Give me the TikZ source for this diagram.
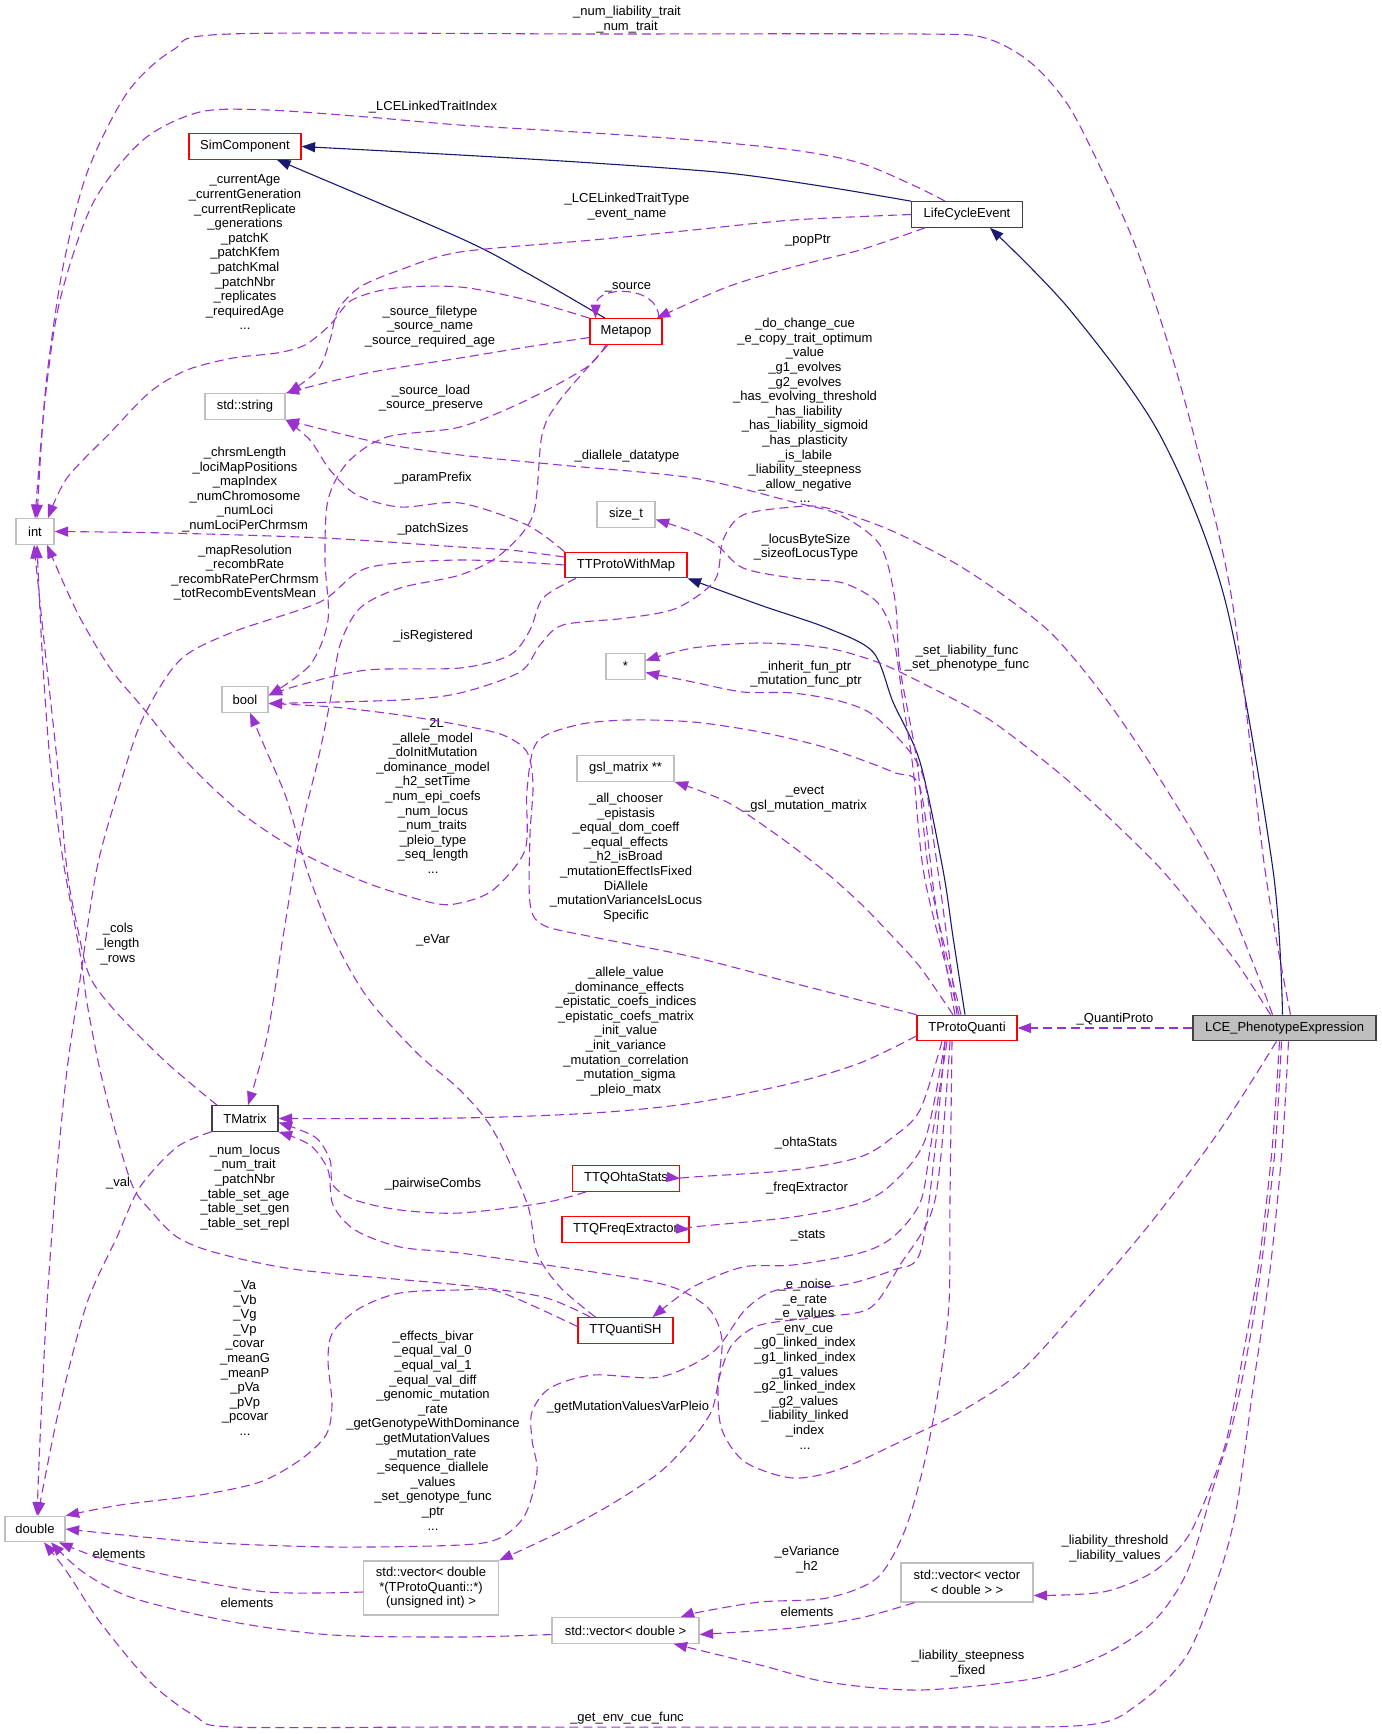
\documentclass[tikz,border=0pt]{standalone}
\usepackage{fontspec}
\setmainfont{Liberation Sans}
\usetikzlibrary{arrows.meta}
\definecolor{edgepurple}{HTML}{9A32CD}
\definecolor{edgenavy}{HTML}{191970}
\definecolor{boxgrey}{HTML}{BFBFBF}
\definecolor{boxred}{HTML}{FF0000}
\begin{document}
\begin{tikzpicture}[x=1pt, y=-1pt, >={Triangle[length=13.5pt,width=10pt]},
  every node/.style={font=\fontsize{13}{14.6}\selectfont, inner sep=0pt, align=center},
  cls/.style={rectangle, draw, line width=1.2pt, minimum height=25.5pt, fill=white},
  redcls/.style={cls, draw=boxred},
  blackcls/.style={cls, draw=black!75},
  greycls/.style={cls, draw=boxgrey},
  member/.style={->, draw=edgepurple, line width=1.1pt, dash pattern=on 9pt off 5pt},
  base/.style={->, draw=edgenavy, line width=1.1pt}]
\useasboundingbox (0,0) rectangle (1381,1734);
\node (simComp) at (245,146.5) [redcls, minimum width=112pt] {SimComponent};
\node (lifeCycle) at (967,214.5) [blackcls, minimum width=111pt] {LifeCycleEvent};
\node (metapop) at (626,331.5) [redcls, minimum width=72pt] {Metapop};
\node (typeString) at (245,406.5) [greycls, minimum width=80pt] {std::string};
\node (typeInt) at (35,531.5) [greycls, minimum width=38pt] {int};
\node (typeSize) at (626,514.5) [greycls, minimum width=58pt] {size\_t};
\node (protoMap) at (626,565) [redcls, minimum width=122pt] {TTProtoWithMap};
\node (typeStar) at (625.5,666.5) [greycls, minimum width=39pt] {*};
\node (typeBool) at (245,699.5) [greycls, minimum width=46pt] {bool};
\node (typeGsl) at (625.5,768.5) [greycls, minimum width=97pt] {gsl\_matrix **};
\node (protoQuanti) at (967,1028) [redcls, minimum width=100pt] {TProtoQuanti};
\node (lcePheno) at (1284.5,1028) [blackcls, fill=boxgrey, minimum width=183pt] {LCE\_PhenotypeExpression};
\node (tmatrix) at (245,1118.5) [blackcls, minimum width=66pt] {TMatrix};
\node (ohta) at (626,1178.5) [redcls, minimum width=107pt] {TTQOhtaStats};
\node (freq) at (625.5,1229.5) [redcls, minimum width=127pt] {TTQFreqExtractor};
\node (quantiSH) at (625.5,1330.5) [redcls, minimum width=95pt] {TTQuantiSH};
\node (typeDouble) at (35,1529) [greycls, minimum width=60pt] {double};
\node (vecFptr) at (431,1588) [greycls, minimum width=135pt, minimum height=54pt] {std::vector< double\\*(TProtoQuanti::*)\\(unsigned int) >};
\node (vecDouble) at (625.5,1630.5) [greycls, minimum width=147pt] {std::vector< double >};
\node (vecVec) at (967,1582.5) [greycls, minimum width=132pt, minimum height=39pt] {std::vector< vector\\< double > >};

\node (lNumTrait) at (627,19.5) {\_num\_liability\_trait\\\_num\_trait};
\node (lTraitIndex) at (433,107) {\_LCELinkedTraitIndex};
\node (lCurrentAge) at (245,252.5) {\_currentAge\\\_currentGeneration\\\_currentReplicate\\\_generations\\\_patchK\\\_patchKfem\\\_patchKmal\\\_patchNbr\\\_replicates\\\_requiredAge\\...};
\node (lTraitType) at (627,206.5) {\_LCELinkedTraitType\\\_event\_name};
\node (lPopPtr) at (808,240) {\_popPtr};
\node (lSource) at (628,287) {\_source};
\node (lSourceFile) at (430,326.5) {\_source\_filetype\\\_source\_name\\\_source\_required\_age};
\node (lSourceLoad) at (431,398) {\_source\_load\\\_source\_preserve};
\node (lChangeCue) at (805,410.5) {\_do\_change\_cue\\\_e\_copy\_trait\_optimum\\\_value\\\_g1\_evolves\\\_g2\_evolves\\\_has\_evolving\_threshold\\\_has\_liability\\\_has\_liability\_sigmoid\\\_has\_plasticity\\\_is\_labile\\\_liability\_steepness\\\_allow\_negative\\...};
\node (lChrsm) at (245,489.5) {\_chrsmLength\\\_lociMapPositions\\\_mapIndex\\\_numChromosome\\\_numLoci\\\_numLociPerChrmsm};
\node (lParamPrefix) at (433,478) {\_paramPrefix};
\node (lDiallele) at (627,456) {\_diallele\_datatype};
\node (lPatchSizes) at (433,529) {\_patchSizes};
\node (lLocusByte) at (806,547) {\_locusByteSize\\\_sizeofLocusType};
\node (lMapRes) at (245,572.5) {\_mapResolution\\\_recombRate\\\_recombRatePerChrmsm\\\_totRecombEventsMean};
\node (lRegistered) at (433,636) {\_isRegistered};
\node (lSetLiab) at (967,658) {\_set\_liability\_func\\\_set\_phenotype\_func};
\node (lInherit) at (806,674) {\_inherit\_fun\_ptr\\\_mutation\_func\_ptr};
\node (lTwoL) at (433,796) {\_2L\\\_allele\_model\\\_doInitMutation\\\_dominance\_model\\\_h2\_setTime\\\_num\_epi\_coefs\\\_num\_locus\\\_num\_traits\\\_pleio\_type\\\_seq\_length\\...};
\node (lEvect) at (805,799) {\_evect\\\_gsl\_mutation\_matrix};
\node (lAllChooser) at (626,857.5) {\_all\_chooser\\\_epistasis\\\_equal\_dom\_coeff\\\_equal\_effects\\\_h2\_isBroad\\\_mutationEffectIsFixed\\DiAllele\\\_mutationVarianceIsLocus\\Specific};
\node (lEVar) at (433,940) {\_eVar};
\node (lCols) at (118,944) {\_cols\\\_length\\\_rows};
\node (lAlleleValue) at (626,1031.5) {\_allele\_value\\\_dominance\_effects\\\_epistatic\_coefs\_indices\\\_epistatic\_coefs\_matrix\\\_init\_value\\\_init\_variance\\\_mutation\_correlation\\\_mutation\_sigma\\\_pleio\_matx};
\node (lQuantiProto) at (1115,1019) {\_QuantiProto};
\node (lOhta) at (806,1143) {\_ohtaStats};
\node (lPairwise) at (433,1184) {\_pairwiseCombs};
\node (lFreq) at (807,1188) {\_freqExtractor};
\node (lVal) at (118,1183) {\_val};
\node (lNumLocus) at (245,1187.5) {\_num\_locus\\\_num\_trait\\\_patchNbr\\\_table\_set\_age\\\_table\_set\_gen\\\_table\_set\_repl};
\node (lStats) at (808,1236) {\_stats};
\node (lVa) at (245,1358) {\_Va\\\_Vb\\\_Vg\\\_Vp\\\_covar\\\_meanG\\\_meanP\\\_pVa\\\_pVp\\\_pcovar\\...};
\node (lENoise) at (805,1364) {\_e\_noise\\\_e\_rate\\\_e\_values\\\_env\_cue\\\_g0\_linked\_index\\\_g1\_linked\_index\\\_g1\_values\\\_g2\_linked\_index\\\_g2\_values\\\_liability\_linked\\\_index\\...};
\node (lEffects) at (433,1430.5) {\_effects\_bivar\\\_equal\_val\_0\\\_equal\_val\_1\\\_equal\_val\_diff\\\_genomic\_mutation\\\_rate\\\_getGenotypeWithDominance\\\_getMutationValues\\\_mutation\_rate\\\_sequence\_diallele\\\_values\\\_set\_genotype\_func\\\_ptr\\...};
\node (lGetMut) at (628,1407) {\_getMutationValuesVarPleio};
\node (lLiabThresh) at (1115,1548.5) {\_liability\_threshold\\\_liability\_values};
\node (lElemVV) at (807,1612) {elements};
\node (lEVariance) at (807,1559.5) {\_eVariance\\\_h2};
\node (lLiabSteep) at (968,1663.5) {\_liability\_steepness\\\_fixed};
\node (lElemVD) at (247,1603) {elements};
\node (lElemVF) at (119,1554) {elements};
\node (lGetEnv) at (627,1718) {\_get\_env\_cue\_func};

\draw[base] plot[smooth] coordinates {(lifeCycle.north west) (827,187) (727,173) (593,163) (460,155) (simComp.east)};
\draw[base] plot[smooth] coordinates {([xshift=-21pt]metapop.north) (527,273) (460,238) ([xshift=32pt]simComp.south)};
\draw[base] plot[smooth] coordinates {([xshift=-2pt]lcePheno.north) (1273,870) (1225,600) (1160,435) (1070,310) ([xshift=23pt]lifeCycle.south)};
\draw[base] plot[smooth] coordinates {([xshift=-2pt]protoQuanti.north) (953,937) (943,870) (920,762) (893,702) (873,652) (827,628) (760,605) (protoMap.south east)};

\draw[member] plot[smooth] coordinates {([xshift=6pt]lcePheno.north) (1265,870) (1232,600) (1195,440) (1170,350) (1137,250) (1103,173) (1068,105) (1030,62) (985,38) (920,34) (600,34) (230,34) (173,50) (127,93) (87,173) (63,267) (48,367) (42,433) ([xshift=2pt]typeInt.north)};
\draw[member] plot[smooth] coordinates {([xshift=-22pt]lifeCycle.north) (917,187) (860,163) (793,150) (693,140) (593,133) (460,125) (367,117) (267,110) (200,112) (143,140) (93,203) (60,300) (45,400) (typeInt.north)};
\draw[member] plot[smooth] coordinates {(lifeCycle.west) (793,220) (693,230) (593,240) (460,252) (400,270) (360,287) (338,310) (330,340) (318,370) ([xshift=2pt]typeString.north east)};
\draw[member] plot[smooth] coordinates {([xshift=-42pt]lifeCycle.south) (860,250) (793,267) (727,287) ([xshift=-6pt]metapop.north east)};
\draw[member] ([xshift=-4pt]metapop.north east) .. controls (660,285) and (596,285) .. ([xshift=6pt]metapop.north west);
\draw[member] plot[smooth] coordinates {(metapop.north west) (527,300) (460,287) (395,288) (352,300) (330,325) (305,345) (277,353) (233,358) (187,370) (150,392) (110,433) (67,478) ([xshift=13pt]typeInt.north)};
\draw[member] plot[smooth] coordinates {([yshift=-6pt]metapop.west) (527,347) (460,358) (367,373) (typeString.north east)};
\draw[member] plot[smooth] coordinates {([xshift=-20pt]metapop.south) (587,367) (527,400) (460,427) (387,437) (348,462) (328,500) (325,560) (328,620) (310,665) ([yshift=4pt]typeBool.east)};
\draw[member] plot[smooth] coordinates {([xshift=-18pt]metapop.south) (560,400) (542,435) (533,515) (500,555) (460,575) (400,588) (360,608) (340,645) (330,702) (318,760) (300,835) (283,937) (267,1037) ([xshift=3pt]tmatrix.north)};
\draw[member] plot[smooth] coordinates {([yshift=8pt]protoMap.west) (510,550) (460,547) (323,538) (167,533) (typeInt.east)};
\draw[member] plot[smooth] coordinates {(protoMap.west) (460,560) (367,568) (320,602) (233,632) (180,660) (143,718) (120,785) (97,868) (80,980) (67,1070) (57,1170) (47,1303) (40,1440) ([xshift=2pt]typeDouble.north)};
\draw[member] plot[smooth] coordinates {(protoMap.north west) (527,525) (460,503) (400,507) (357,495) (330,470) (310,440) (typeString.south east)};
\draw[member] plot[smooth] coordinates {([xshift=-50pt]protoMap.south) (543,598) (530,630) (510,655) (460,668) (367,670) (300,685) ([yshift=4pt]typeBool.east)};
\draw[member] plot[smooth] coordinates {([xshift=-12pt]lcePheno.north) (1253,963) (1213,868) (1153,768) (1103,695) (1053,635) (1003,595) (953,562) (890,530) (827,508) (793,507) (743,515) (723,540) (715,580) (677,608) (627,618) (563,625) (540,645) (520,672) (460,693) (400,700) ([yshift=-4pt]typeBool.east)};
\draw[member] plot[smooth] coordinates {([xshift=-6pt]protoQuanti.north) (930,880) (917,762) (900,668) (895,600) (880,545) (840,515) (793,502) (693,478) (560,465) (460,455) (380,443) (typeString.south east)};
\draw[member] plot[smooth] coordinates {([xshift=-8pt]protoQuanti.north) (925,880) (913,768) (903,702) (893,635) (877,602) (843,583) (793,578) (743,568) (717,545) (693,532) ([yshift=-5pt]typeSize.east)};
\draw[member] plot[smooth] coordinates {([xshift=-10pt]protoQuanti.north) (935,850) (920,768) (877,718) (843,702) (793,693) (743,692) (693,682) ([yshift=-6pt]typeStar.east)};
\draw[member] plot[smooth] coordinates {([xshift=-14pt]lcePheno.north) (1237,963) (1203,920) (1160,868) (1103,812) (1053,768) (987,718) (920,682) (877,662) (827,648) (760,643) (693,648) ([yshift=6pt]typeStar.east)};
\draw[member] plot[smooth] coordinates {([xshift=-14pt]protoQuanti.north) (920,967) (893,937) (860,903) (823,870) (777,835) (727,802) (typeGsl.south east)};
\draw[member] plot[smooth] coordinates {([xshift=-12pt]protoQuanti.north) (935,900) (920,788) (893,772) (827,748) (760,732) (693,722) (627,720) (577,725) (537,742) (527,790) (525,850) (493,890) (460,903) (433,903) (367,883) (300,852) (240,812) (187,762) (143,708) (110,668) (77,612) ([xshift=12pt]typeInt.south)};
\draw[member] plot[smooth] coordinates {(protoQuanti.north west) (793,983) (693,957) (593,937) (543,925) (530,903) (530,835) (533,785) (527,752) (503,735) (460,725) (400,715) (333,707) ([yshift=-4pt]typeBool.east)};
\draw[member] plot[smooth] coordinates {([yshift=-8pt]protoQuanti.west) (860,1063) (793,1083) (693,1103) (593,1113) (460,1118) (tmatrix.east)};
\draw[member] plot[smooth] coordinates {([xshift=-30pt]quantiSH.north) (560,1287) (537,1253) (527,1203) (493,1130) (460,1090) (417,1053) (367,997) (333,937) (307,870) (287,800) (266,750) ([xshift=5pt]typeBool.south)};
\draw[member] plot[smooth] coordinates {([xshift=-40pt]ohta.south) (543,1203) (460,1213) (400,1210) (355,1200) (333,1185) (330,1160) (315,1137) ([yshift=-4pt]tmatrix.east)};
\draw[member] plot[smooth] coordinates {([xshift=-8pt]lcePheno.south) (1220,1130) (1153,1220) (1083,1303) (1020,1372) (960,1412) (920,1432) (843,1468) (793,1478) (745,1462) (722,1430) (718,1390) (722,1340) (710,1310) (680,1290) (643,1280) (560,1267) (460,1253) (400,1247) (355,1230) (333,1205) (328,1170) (310,1145) (tmatrix.south east)};
\draw[member] plot[smooth] coordinates {([xshift=-35pt]quantiSH.north) (543,1297) (460,1285) (300,1270) (217,1253) (177,1237) (150,1210) (133,1187) (117,1137) (100,1070) (87,1003) (80,953) (63,860) (50,760) (42,650) ([xshift=2pt]typeInt.south)};
\draw[member] plot[smooth] coordinates {([xshift=-28pt]tmatrix.north) (167,1063) (117,1013) (90,977) (78,930) (67,870) (57,760) (45,650) ([xshift=-1pt]typeInt.south)};
\draw[member] plot[smooth] coordinates {(tmatrix.south west) (177,1147) (140,1187) (117,1237) (87,1303) (60,1405) (43,1488) ([xshift=3pt]typeDouble.north)};
\draw[member] plot[smooth] coordinates {([yshift=4pt]quantiSH.west) (500,1292) (460,1290) (400,1293) (360,1308) (333,1332) (328,1360) (332,1405) (326,1435) (300,1460) (260,1482) (200,1495) (120,1505) (typeDouble.north east)};
\draw[member] plot[smooth] coordinates {([xshift=-22pt]protoQuanti.south) (935,1150) (920,1253) (893,1270) (843,1285) (777,1290) (745,1310) (713,1352) (660,1377) (593,1375) (550,1388) (532,1412) (532,1440) (537,1472) (525,1515) (500,1538) (460,1545) (333,1547) (200,1542) (typeDouble.east)};
\draw[member] plot[smooth] coordinates {([xshift=-20pt]protoQuanti.south) (930,1150) (920,1203) (893,1237) (860,1253) (793,1265) (743,1267) (693,1287) ([xshift=27pt]quantiSH.north)};
\draw[member] plot[smooth] coordinates {([xshift=-25pt]protoQuanti.south) (920,1110) (893,1137) (860,1157) (793,1170) (693,1177) (ohta.east)};
\draw[member] plot[smooth] coordinates {([xshift=-22pt]protoQuanti.south) (925,1140) (893,1183) (860,1203) (793,1217) (693,1227) (freq.east)};
\draw[member] plot[smooth] coordinates {([xshift=-17pt]protoQuanti.south) (935,1200) (900,1265) (870,1308) (820,1317) (760,1325) (732,1345) (720,1375) (712,1410) (693,1438) (660,1472) (610,1505) (560,1532) (vecFptr.north east)};
\draw[member] plot[smooth] coordinates {([xshift=-15pt]protoQuanti.south) (950,1200) (949,1303) (940,1380) (925,1460) (905,1530) (877,1578) (827,1598) (760,1602) (700,1612) ([xshift=-19pt]vecDouble.north east)};
\draw[member] plot[smooth] coordinates {([xshift=-3pt]lcePheno.south) (1275,1150) (1262,1260) (1250,1338) (1233,1422) (1213,1488) (1187,1572) (1153,1622) (1103,1655) (1037,1678) (920,1690) (827,1682) (760,1665) ([xshift=-26pt]vecDouble.south east)};
\draw[member] plot[smooth] coordinates {([xshift=4pt]lcePheno.south) (1282,1150) (1270,1270) (1253,1388) (1237,1505) (1220,1572) (1187,1655) (1137,1705) (1087,1725) (920,1727) (460,1727) (233,1727) (195,1716) (150,1682) (100,1622) (67,1572) ([xshift=9pt]typeDouble.south)};
\draw[member] plot[smooth] coordinates {([xshift=-5pt]lcePheno.south) (1272,1150) (1258,1270) (1243,1355) (1227,1438) (1210,1488) (1187,1538) (1153,1572) (1103,1592) ([yshift=-13pt]vecVec.east)};
\draw[member] plot[smooth] coordinates {([yshift=-4pt]vecDouble.west) (460,1637) (333,1635) (233,1622) (133,1598) (83,1572) ([xshift=16pt]typeDouble.south)};
\draw[member] plot[smooth] coordinates {([yshift=-4pt]vecFptr.west) (267,1592) (167,1575) (100,1558) ([xshift=24pt]typeDouble.south)};
\draw[member] plot[smooth] coordinates {([xshift=14pt]vecVec.south west) (860,1618) (793,1628) ([yshift=-4pt]vecDouble.east)};
\draw[member] (lcePheno) -- (protoQuanti);
\end{tikzpicture}
\end{document}
